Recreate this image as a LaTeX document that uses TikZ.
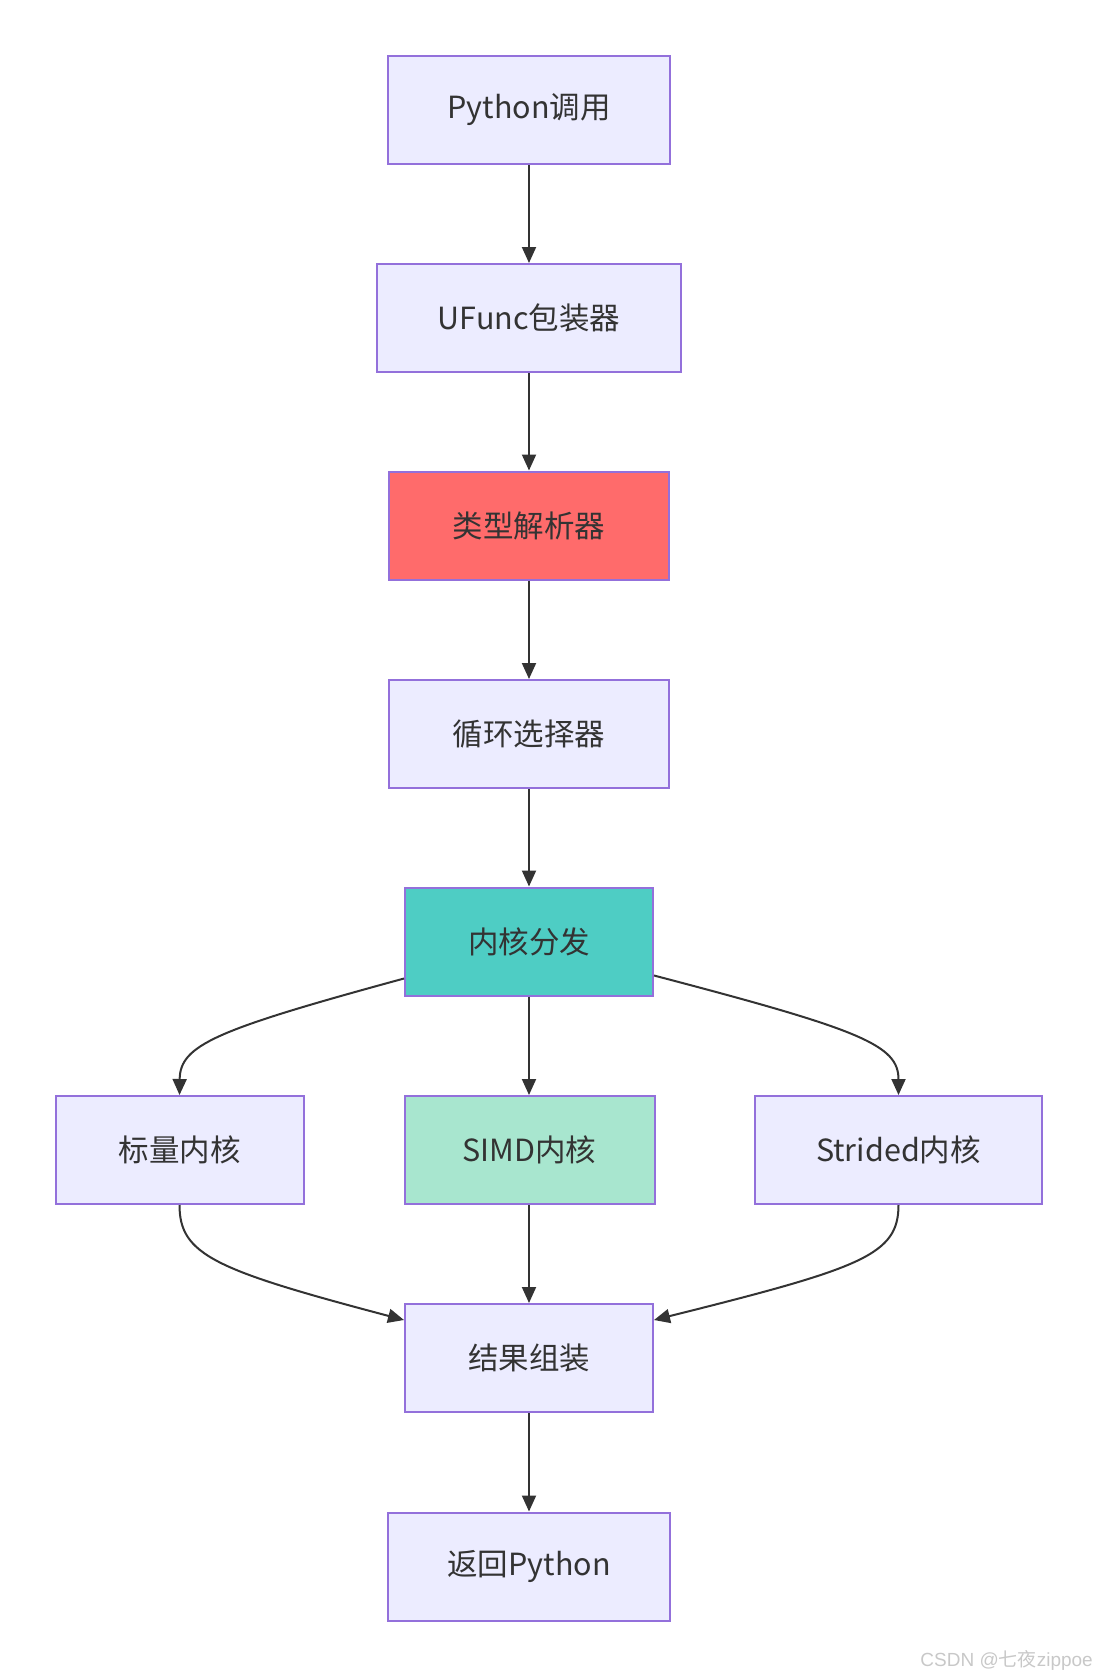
\documentclass[tikz,border=0pt]{standalone}
\usepackage{fontspec}
\setmainfont{Noto Sans CJK SC}
\newfontfamily\wmfont{Liberation Sans}
\newfontfamily\wmcjk{Noto Sans CJK SC}
\usetikzlibrary{arrows.meta}
\definecolor{nodefill}{HTML}{ECECFF}
\definecolor{nodeborder}{HTML}{9370DB}
\definecolor{textc}{HTML}{333333}
\definecolor{linec}{HTML}{333333}
\definecolor{redfill}{HTML}{FF6B6B}
\definecolor{tealfill}{HTML}{4ECDC4}
\definecolor{mintfill}{HTML}{A8E6CF}
\definecolor{wmgrey}{HTML}{C8C8C8}
\begin{document}
\begin{tikzpicture}[x=1pt,y=-1pt,
  box/.style={draw=nodeborder, line width=2pt, fill=nodefill, text=textc,
    font=\fontsize{30.5}{36}\selectfont, inner sep=0pt, minimum height=108pt},
  conn/.style={draw=linec, line width=2pt, -{Triangle[length=16pt,width=14pt]}}]
\useasboundingbox (0,0) rectangle (1097,1676);
\node[box, minimum width=282pt] (py) at (529,110) {Python调用};
\node[box, minimum width=304pt] (uf) at (529,318) {UFunc包装器};
\node[box, minimum width=280pt, fill=redfill] (tr) at (529,525.5) {类型解析器};
\node[box, minimum width=280pt] (ls) at (529,734) {循环选择器};
\node[box, minimum width=248pt, fill=tealfill] (kd) at (529,941.5) {内核分发};
\node[box, minimum width=248pt] (sk) at (179.5,1150) {标量内核};
\node[box, minimum width=250pt, fill=mintfill] (sd) at (529.5,1150) {SIMD内核};
\node[box, minimum width=287pt] (st) at (898.5,1150) {Strided内核};
\node[box, minimum width=248pt] (ra) at (529,1358) {结果组装};
\node[box, minimum width=282pt] (rp) at (529,1566.5) {返回Python};
\draw[conn] (py) -- (uf);
\draw[conn] (uf) -- (tr);
\draw[conn] (tr) -- (ls);
\draw[conn] (ls) -- (kd);
\draw[conn] ([yshift=-37pt]kd.west) .. controls (215,1030) and (180,1045) .. (sk.north);
\draw[conn] (kd.south) -- (ra.north |- sd.north);
\draw[conn] ([yshift=-34pt]kd.east) .. controls (862,1030) and (898.5,1045) .. (st.north);
\draw[conn] (sk.south) .. controls (179.5,1255) and (215,1270) .. ([yshift=38pt]ra.west);
\draw[conn] (ra.north |- sd.south) -- (ra.north);
\draw[conn] (st.south) .. controls (898.5,1255) and (862,1268) .. ([yshift=38pt]ra.east);
\draw[conn] (ra) -- (rp);
\node[anchor=east, text=wmgrey, font=\fontsize{19}{22}\selectfont, inner sep=0pt] (wm) at (1093,1660) {\wmfont CSDN @\wmcjk 七夜\wmfont zippoe};
\end{tikzpicture}
\end{document}
